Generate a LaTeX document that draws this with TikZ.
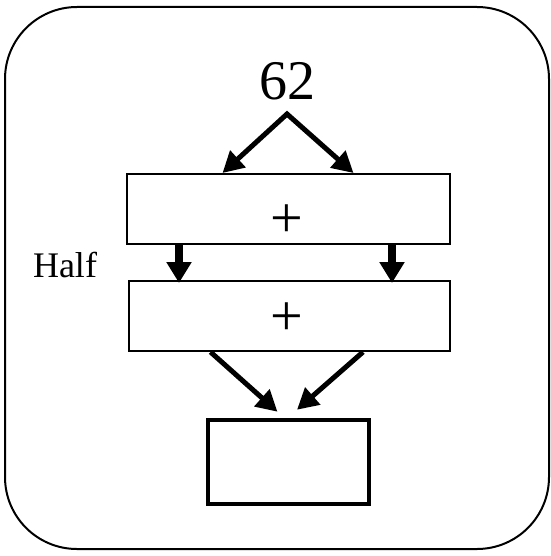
\documentclass[tikz,border=0pt]{standalone}
\usepackage{fontspec}
\setmainfont{Liberation Serif}
\usetikzlibrary{arrows.meta}
\begin{document}
\begin{tikzpicture}[x=1pt,y=-1pt,
  box/.style={draw,line width=2pt,minimum width=323pt,minimum height=70pt,inner sep=0pt},
  resbox/.style={draw,line width=4.5pt,minimum width=161pt,minimum height=84pt,inner sep=0pt},
  conn/.style={line width=5pt,-{Triangle[length=21pt,width=22pt]}},
  thickconn/.style={line width=8pt,-{Triangle[length=21pt,width=24pt]}},
  sym/.style={inner sep=0pt,font=\fontsize{58}{58}\selectfont}]
\useasboundingbox (0,0) rectangle (550,556);
\draw[line width=2pt,rounded corners=72pt] (5,7) rectangle (549,549);
\node[inner sep=0pt,anchor=base,font=\fontsize{56}{56}\selectfont] (n62) at (287,100) {62};
\coordinate (apex) at (287,114);
\node[box] (b1) at (288.5,209) {};
\node[sym] (p1) at (287,221) {+};
\node[box,minimum width=321pt] (b2) at (289.5,316) {};
\node[sym] (p2) at (287,319) {+};
\node[resbox] (b3) at (288.5,462) {};
\node[inner sep=0pt,font=\fontsize{36}{36}\selectfont] (half) at (65,265) {Half};
\draw[line width=5pt,miter limit=10,{Triangle[length=21pt,width=22pt]}-{Triangle[length=21pt,width=22pt]}]
  ([xshift=-66pt]b1.north) -- (apex) -- ([xshift=65pt]b1.north);
\draw[thickconn] ([xshift=-109.5pt]b1.south) -- ([xshift=-109.5pt,yshift=-3pt]b1.south |- b2.north);
\draw[thickconn] ([xshift=103.5pt]b1.south) -- ([xshift=103.5pt,yshift=-3pt]b1.south |- b2.north);
\draw[conn] ([xshift=-79pt]b2.south) -- ([xshift=-11pt,yshift=6pt]b3.north);
\draw[conn] ([xshift=73.5pt]b2.south) -- ([xshift=8.5pt,yshift=8pt]b3.north);
\end{tikzpicture}
\end{document}
